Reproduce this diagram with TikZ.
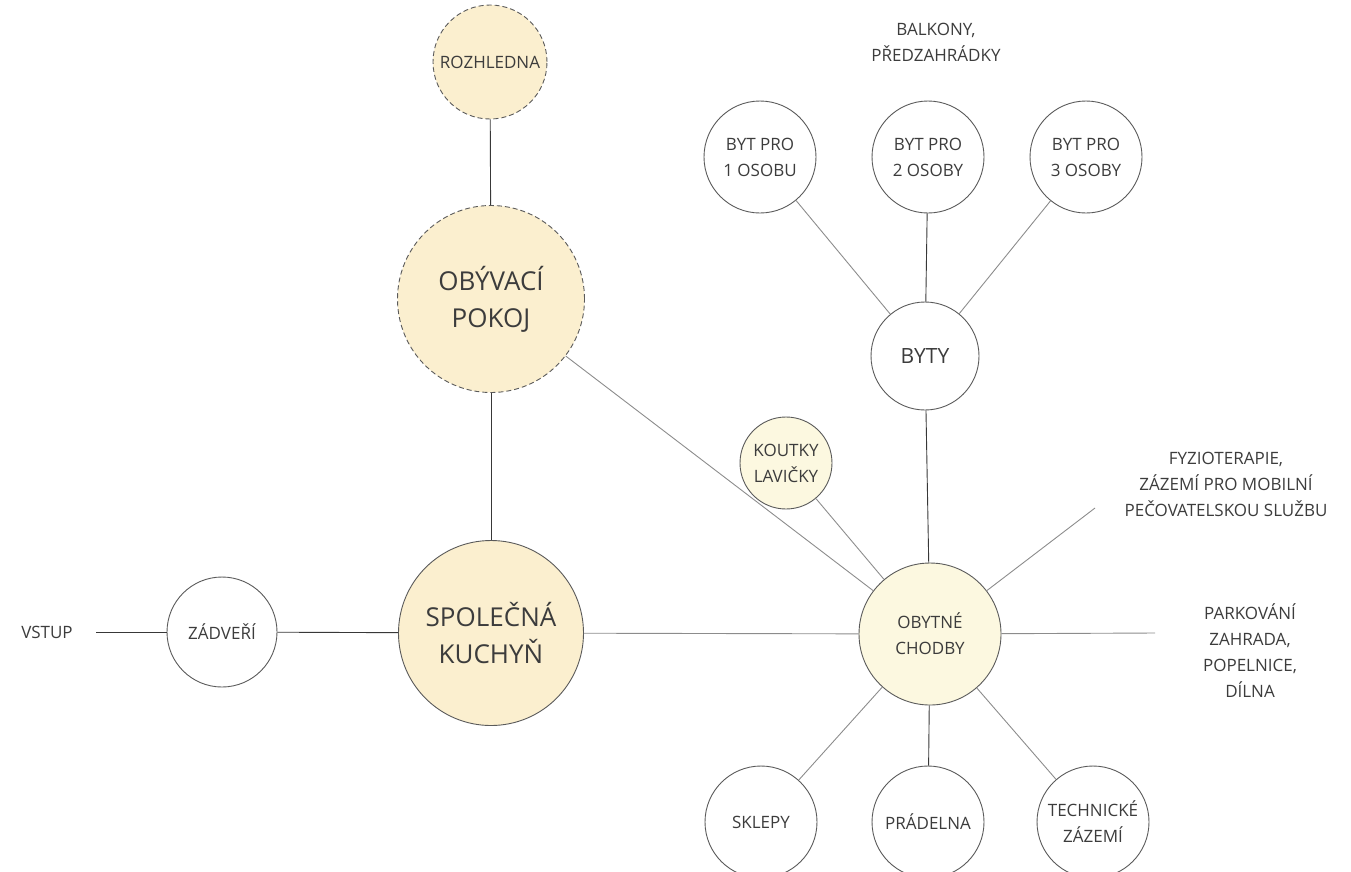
\documentclass[tikz,border=0pt]{standalone}
\usepackage{fontspec}
\setmainfont{Open Sans}
\definecolor{beige}{HTML}{FBEFCF}
\definecolor{cream}{HTML}{FCF8E0}
\definecolor{txt}{HTML}{3C3C3C}
\definecolor{edge}{HTML}{5A5A5A}
\definecolor{darkln}{HTML}{383838}
\definecolor{lightln}{HTML}{8C8C8C}
\tikzset{
  bub/.style={circle, draw=edge, line width=0.9pt, inner sep=0pt, align=center, text=txt,
    font=\fontsize{17}{26}\selectfont},
  bigtxt/.style={font=\fontsize{26}{37}\selectfont},
  dashbub/.style={dash pattern=on 5pt off 3pt},
  lbl/.style={align=center, text=txt, inner sep=0pt, font=\fontsize{17}{26}\selectfont},
  dln/.style={draw=darkln, line width=0.9pt},
  lln/.style={draw=lightln, line width=0.9pt},
}
\begin{document}
\begin{tikzpicture}[x=1pt,y=-1pt]
\useasboundingbox (0,0) rectangle (1351,871);
% nodes
\node[bub, dashbub, fill=beige, minimum size=114pt] (roz) at (490,62) {ROZHLEDNA};
\node[bub, dashbub, fill=beige, bigtxt, minimum size=187pt] (oby) at (491,299) {OBÝVACÍ\\POKOJ};
\node[bub, fill=beige, bigtxt, minimum size=185pt] (kuch) at (491,633) {SPOLEČNÁ\\KUCHYŇ};
\node[bub, minimum size=110pt] (zad) at (222,632) {ZÁDVEŘÍ};
\node[lbl] (vstup) at (47,632) {VSTUP};
\coordinate (vs) at (96,632);
\node[bub, fill=cream, minimum size=142pt] (chod) at (930,634) {OBYTNÉ\\CHODBY};
\node[bub, fill=cream, minimum size=92pt] (kout) at (786,463) {KOUTKY\\LAVIČKY};
\node[bub, minimum size=108pt] (byty) at (925,356) {\fontsize{21}{25}\selectfont BYTY};
\node[bub, minimum size=112pt] (b1) at (760,157) {BYT PRO\\1 OSOBU};
\node[bub, minimum size=112pt] (b2) at (928,157) {BYT PRO\\2 OSOBY};
\node[bub, minimum size=112pt] (b3) at (1086,157) {BYT PRO\\3 OSOBY};
\node[lbl] (balk) at (936,42) {BALKONY,\\PŘEDZAHRÁDKY};
\node[lbl] (fyz) at (1226,484) {FYZIOTERAPIE,\\ZÁZEMÍ PRO MOBILNÍ\\PEČOVATELSKOU SLUŽBU};
\coordinate (fz) at (1095,508);
\node[lbl] (park) at (1250,651) {PARKOVÁNÍ\\ZAHRADA,\\POPELNICE,\\DÍLNA};
\coordinate (pk) at (1155,633);
\node[bub, minimum size=112pt] (skl) at (761,822) {SKLEPY};
\node[bub, minimum size=112pt] (prad) at (928,822) {PRÁDELNA};
\node[bub, minimum size=112pt] (tech) at (1093,822) {TECHNICKÉ\\ZÁZEMÍ};
% connectors
\draw[dln] (roz) -- (oby);
\draw[dln] (oby) -- (kuch);
\draw[dln] (vs) -- (zad);
\draw[dln] (zad) -- (kuch);
\draw[lln] (kuch) -- (chod);
\draw[lln] (oby) -- (chod);
\draw[lln] (kout) -- (chod);
\draw[dln] (byty) -- (chod);
\draw[lln] (b1) -- (byty);
\draw[dln] (b2) -- (byty);
\draw[lln] (b3) -- (byty);
\draw[lln] (chod) -- (fz);
\draw[lln] (chod) -- (pk);
\draw[lln] (chod) -- (skl);
\draw[dln] (chod) -- (prad);
\draw[lln] (chod) -- (tech);
\end{tikzpicture}
\end{document}
